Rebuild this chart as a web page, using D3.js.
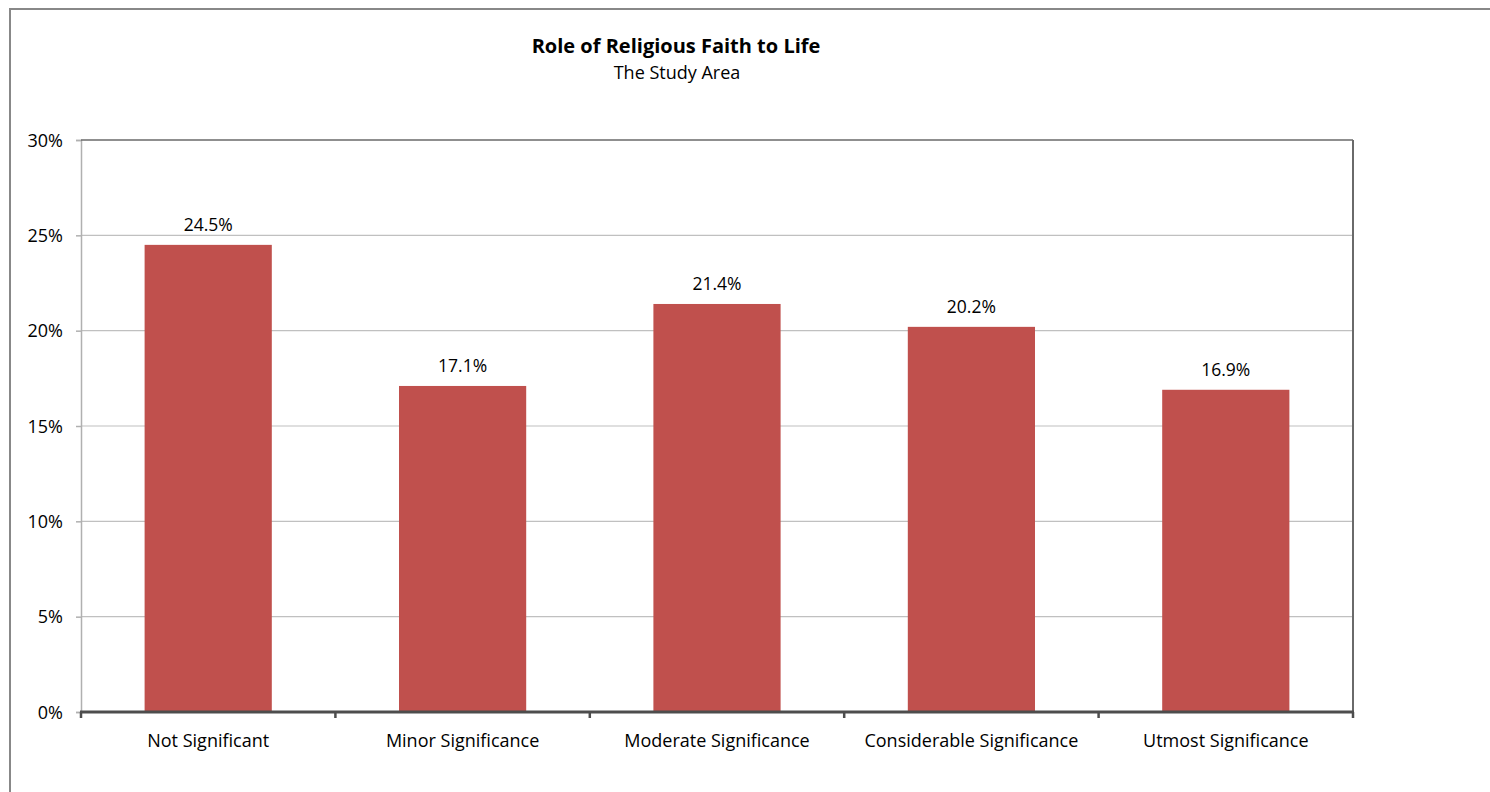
<!DOCTYPE html>
<html><head><meta charset="utf-8">
<script src="https://cdn.jsdelivr.net/npm/d3@7"></script>
<style>body{margin:0;background:#fff;} svg{display:block;} text{font-family:"Open Sans", Lato, sans-serif;fill:#000;}</style>
</head><body>
<svg id="c" width="1490" height="792"></svg>
<script>
const categories = ["Not Significant","Minor Significance","Moderate Significance","Considerable Significance","Utmost Significance"];
const values = [24.5, 17.1, 21.4, 20.2, 16.9];
const yTicks = [0,5,10,15,20,25,30];
const title = "Role of Religious Faith to Life";
const subtitle = "The Study Area";

const svg = d3.select("#c");
const L = 81, R = 1353, T = 140, B = 712;
svg.append("rect").attr("x",10).attr("y",9).attr("width",1600).attr("height",900)
  .attr("fill","none").attr("stroke","#888").attr("stroke-width",2);

const x = d3.scaleBand().domain(categories).range([L,R]).paddingInner(0.5).paddingOuter(0.25);
const xb = d3.scaleBand().domain(categories).range([L,R]);
const y = d3.scaleLinear().domain([0,30]).range([B,T]);

// gridlines
svg.append("g").selectAll("line").data(yTicks.filter(d=>d>0 && d<30)).join("line")
  .attr("x1",L).attr("x2",R).attr("y1",d=>y(d)).attr("y2",d=>y(d))
  .attr("stroke","#c0c0c0").attr("stroke-width",1.2);

// left axis
const ya = svg.append("g").attr("transform",`translate(${L},0)`)
  .call(d3.axisLeft(y).tickValues(yTicks).tickFormat(d=>d+"%").tickSize(5).tickPadding(13));
ya.select(".domain").attr("stroke","#b0b0b0").attr("stroke-width",1.5);
ya.selectAll(".tick line").attr("stroke","#b0b0b0").attr("stroke-width",1.5);
ya.selectAll("text").style("font-size","18px").attr("dy","0.35em");

// top and right border
svg.append("line").attr("x1",L).attr("x2",R).attr("y1",T).attr("y2",T).attr("stroke","#6a6a6a").attr("stroke-width",1.5);
svg.append("line").attr("x1",R).attr("x2",R).attr("y1",T).attr("y2",B).attr("stroke","#6a6a6a").attr("stroke-width",2);

// bars
svg.append("g").selectAll("rect").data(values).join("rect")
  .attr("x",(d,i)=>x(categories[i])).attr("width",x.bandwidth())
  .attr("y",d=>y(d)).attr("height",d=>B-y(d)).attr("fill","#C0504D");

// data labels
svg.append("g").selectAll("text").data(values).join("text")
  .attr("x",(d,i)=>x(categories[i])+x.bandwidth()/2).attr("y",d=>y(d)-14)
  .attr("text-anchor","middle").style("font-size","17.5px").text(d=>d.toFixed(1)+"%");

// bottom axis
const bounds = categories.map(c=>xb(c)).concat([R]);
svg.append("g").selectAll("line").data(bounds).join("line")
  .attr("x1",d=>d).attr("x2",d=>d).attr("y1",B).attr("y2",B+6)
  .attr("stroke","#4d4d4d").attr("stroke-width",2.5);
svg.append("line").attr("x1",L-1).attr("x2",R+1).attr("y1",B).attr("y2",B).attr("stroke","#4d4d4d").attr("stroke-width",3);

svg.append("g").selectAll("text").data(categories).join("text")
  .attr("x",d=>xb(d)+xb.bandwidth()/2).attr("y",747)
  .attr("text-anchor","middle").style("font-size","18px").text(d=>d);

svg.append("text").attr("x",676).attr("y",53).attr("text-anchor","middle")
  .style("font-size","20px").style("font-weight","bold").text(title);
svg.append("text").attr("x",677).attr("y",79).attr("text-anchor","middle")
  .style("font-size","18px").text(subtitle);
</script>
</body></html>
